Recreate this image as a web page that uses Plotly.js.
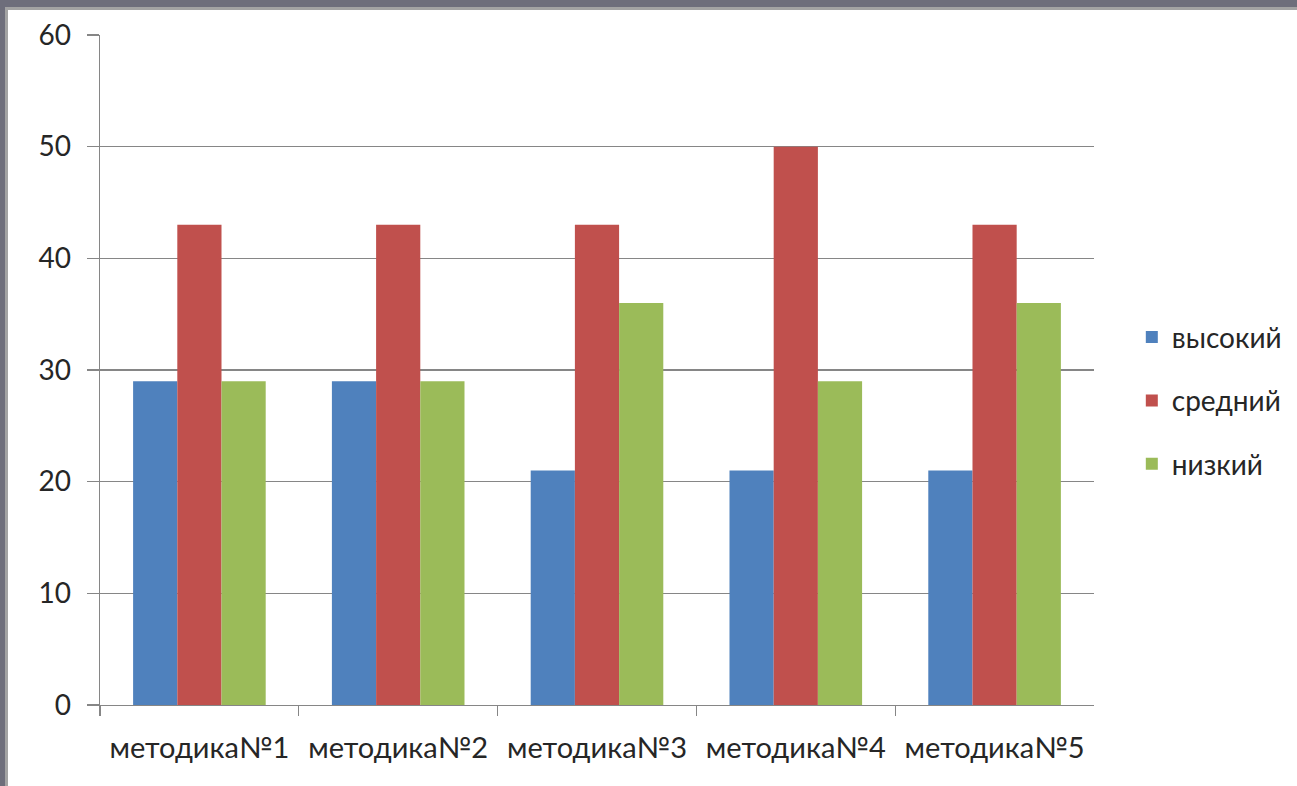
<!DOCTYPE html>
<html><head><meta charset="utf-8">
<script src="https://cdn.plot.ly/plotly-3.0.1.min.js"></script>
<style>
html,body{margin:0;padding:0;width:1297px;height:786px;overflow:hidden;background:#fff;}
#top1{position:absolute;left:0;top:0;width:1297px;height:7px;background:#6e6e7b;}
#top2{position:absolute;left:5px;top:7px;width:1292px;height:3px;background:#a3a3a3;}
#left1{position:absolute;left:0;top:0;width:5px;height:786px;background:#6e6e7b;}
#left2{position:absolute;left:5px;top:7px;width:3px;height:779px;background:#a3a3a3;}
#chart{position:absolute;left:8px;top:10px;width:1289px;height:776px;background:#fff;}
</style></head><body>
<div id="top1"></div><div id="top2"></div><div id="left1"></div><div id="left2"></div>
<div id="chart"></div>
<script>
var categories = ["методика№1","методика№2","методика№3","методика№4","методика№5"];
var seriesNames = ["высокий","средний","низкий"];
var high = [29,29,21,21,21];
var mid = [43,43,43,50,43];
var low = [29,29,36,29,36];
var yTicks = [0,10,20,30,40,50,60];
var colors = ["#4F81BD","#C0504D","#9BBB59"];
var values = [high, mid, low];
var traces = values.map(function(v,i){
  return {type:"bar", x:categories, y:v, name:seriesNames[i], legendgroup:"g"+i,
    marker:{color:colors[i], line:{width:0}}, hoverinfo:"y"};
});
var layout = {
  width:1289, height:776,
  margin:{l:92, r:0, t:25, b:81},
  paper_bgcolor:"#fff", plot_bgcolor:"#fff",
  font:{family:"Lato, 'Open Sans', sans-serif", size:28, color:"#262626"},
  barmode:"group", bargap:0.333, bargroupgap:0,
  showlegend:true,
  legend:{x:0.862, y:0.454, xanchor:"left", yanchor:"middle", tracegroupgap:24,
    font:{size:28, color:"#262626"}, itemwidth:30},
  xaxis:{type:"category", domain:[0, 0.8304], showgrid:false, showline:true, linecolor:"#868686", linewidth:1.3,
    ticks:"outside", tickson:"boundaries", ticklen:10, tickcolor:"#868686", tickwidth:1.3,
    tickfont:{size:29}, zeroline:false, ticklabelstandoff:17},
  yaxis:{range:[0,60], tickvals:yTicks, showgrid:true, gridcolor:"#868686", gridwidth:1.3,
    showline:true, linecolor:"#868686", linewidth:1.3, ticks:"outside", ticklen:12,
    tickcolor:"#868686", tickwidth:1.3, tickfont:{size:28}, zeroline:false, ticklabelstandoff:10}
};
Plotly.newPlot("chart", traces, layout, {displayModeBar:false, staticPlot:true});
</script></body></html>
